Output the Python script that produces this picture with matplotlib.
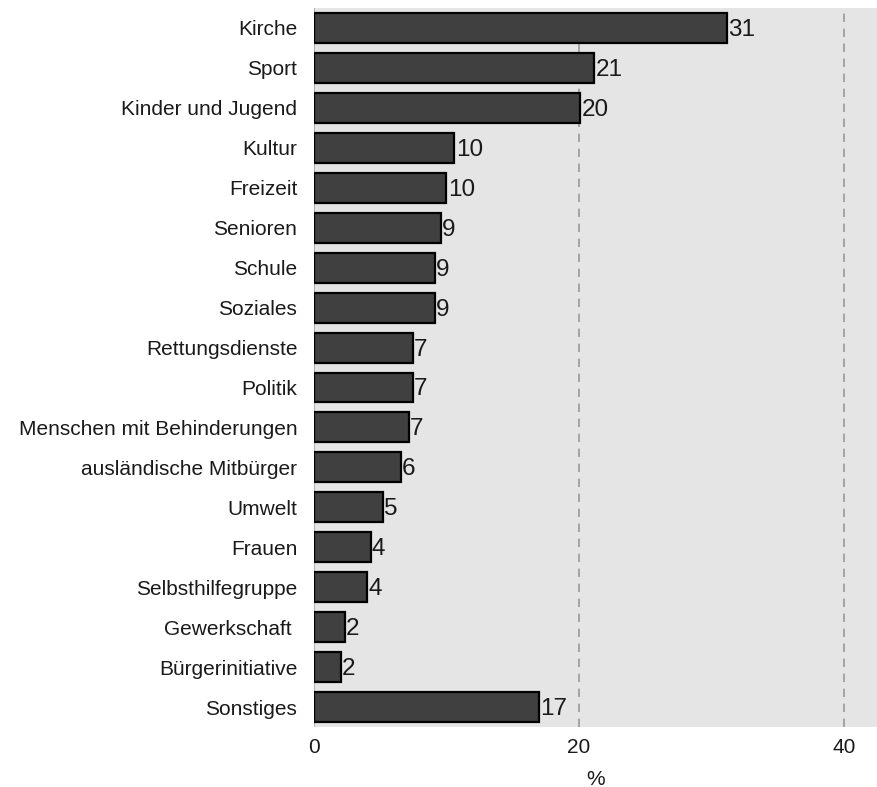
import matplotlib
matplotlib.use('Agg')
import matplotlib.pyplot as plt
import numpy as np

plt.rcParams['font.family'] = ['Liberation Sans', 'DejaVu Sans']

categories = ['Kirche', 'Sport', 'Kinder und Jugend', 'Kultur', 'Freizeit', 'Senioren',
              'Schule', 'Soziales', 'Rettungsdienste', 'Politik',
              'Menschen mit Behinderungen', 'ausländische Mitbürger', 'Umwelt', 'Frauen',
              'Selbsthilfegruppe', 'Gewerkschaft ', 'Bürgerinitiative', 'Sonstiges']
values = [31.15, 21.16, 20.08, 10.6, 10.0, 9.56, 9.1, 9.1, 7.45, 7.45,
          7.14, 6.54, 5.18, 4.28, 3.98, 2.31, 2.01, 16.96]
labels = ['31', '21', '20', '10', '10', '9', '9', '9', '7', '7',
          '7', '6', '5', '4', '4', '2', '2', '17']

fig = plt.figure(figsize=(8.77, 7.87), dpi=100)
ax = fig.add_axes([0.358, 0.0762, 0.642, 0.9136])
ax.set_facecolor('#e5e5e5')

y = np.arange(len(categories))
ax.barh(y, values, height=0.75, color='#404040', edgecolor='black', linewidth=1.6, zorder=3)
for yi, v, lab in zip(y, values, labels):
    ax.text(v + 0.1, yi + 0.05, lab, va='center', ha='left', fontsize=17.5, color='#1a1a1a', zorder=4)

ax.axvline(0, color='#aaaaaa', lw=1.2, zorder=1)
for gx in [20, 40]:
    ax.axvline(gx, color='#999999', lw=1.2, ls=(0, (5, 4)), zorder=1)

ax.set_xlim(0, 42.5)
ax.set_ylim(len(categories) - 0.5, -0.5)
ax.set_yticks(y)
ax.set_yticklabels(categories, fontsize=15, color='#1a1a1a')
ax.set_xticks([0, 20, 40])
ax.set_xticklabels(['0', '20', '40'], fontsize=15, color='#1a1a1a')
ax.tick_params(axis='both', length=0)
ax.tick_params(axis='y', pad=12)
ax.tick_params(axis='x', pad=8)
ax.set_xlabel('%', fontsize=15, color='#1a1a1a', labelpad=9)
for s in ax.spines.values():
    s.set_visible(False)

fig.savefig('out.png', dpi=100)
